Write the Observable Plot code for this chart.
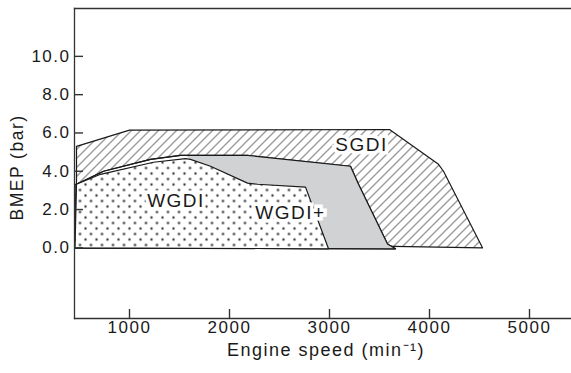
<!DOCTYPE html>
<html>
<head>
<meta charset="utf-8">
<script src="https://cdn.jsdelivr.net/npm/d3@7"></script>
<script src="https://cdn.jsdelivr.net/npm/@observablehq/plot@0.6"></script>
<style>
  html, body { margin: 0; padding: 0; background: #fff; }
  svg text { letter-spacing: 1.5px; }
</style>
</head>
<body>
<div id="chart"></div>
<script>
// ---- data ----
const xTicks = [1000, 2000, 3000, 4000, 5000];
const yTicks = [0, 2, 4, 6, 8, 10];

// SGDI operating envelope (outer boundary, hatched)
const sgdiSpeed = [470, 1000, 3600, 4090, 4140, 4530, 3640, 455, 455, 470];
const sgdiBmep  = [5.30, 6.15, 6.18, 4.36, 4.00, 0.00, 0.08, 0.00, 3.32, 3.32];

// WGDI+ envelope (upper line, right edge, bottom)
const wgdiPlusSpeed = [470, 740, 1210, 1510, 2180, 3210, 3290, 3580, 3660, 455];
const wgdiPlusBmep  = [3.32, 4.00, 4.62, 4.83, 4.83, 4.26, 3.32, 0.20, -0.05, 0.00];

// gray part of WGDI+ (beyond WGDI)
const graySpeed = [1560, 2180, 3210, 3290, 3580, 3660, 2990, 1610];
const grayBmep  = [4.83, 4.83, 4.26, 3.32, 0.20, -0.05, -0.05, 4.62];

// WGDI envelope (dotted)
const wgdiSpeed = [470, 710, 1240, 1560, 1610, 1810, 2180, 2280, 2760, 2990, 455];
const wgdiBmep  = [3.32, 3.84, 4.47, 4.66, 4.62, 4.26, 3.38, 3.32, 3.17, -0.05, 0.00];

const labelText  = ["SGDI", "WGDI", "WGDI+"];
const labelSpeed = [3320, 1465, 2610];
const labelBmep  = [5.37, 2.44, 1.84];

const toPts = (xs, ys) => xs.map((x, i) => ({speed: x, bmep: ys[i]}));
const sgdi = toPts(sgdiSpeed, sgdiBmep);
const wgdiPlus = toPts(wgdiPlusSpeed, wgdiPlusBmep);
const gray = toPts(graySpeed, grayBmep);
const wgdi = toPts(wgdiSpeed, wgdiBmep);
const labels = labelText.map((t, i) => ({t, speed: labelSpeed[i], bmep: labelBmep[i]}));

const ink = "#1a1a1a";
const W = 571, H = 373, ML = 74, MR = 0, MT = 8, MB = 55;
const tickLen = 9;

const chart = Plot.plot({
  width: W,
  height: H,
  marginLeft: ML,
  marginRight: MR,
  marginTop: MT,
  marginBottom: MB,
  style: {fontFamily: "Liberation Sans, Arial, sans-serif", fontSize: "17px", color: ink, background: "#fff"},
  x: {domain: [450, 5420]},
  y: {domain: [-3.69, 12.5]},
  marks: [
    Plot.line(sgdi, {x: "speed", y: "bmep", curve: "linear-closed", fill: "url(#hatch)", stroke: ink, strokeWidth: 1.2}),
    Plot.line(wgdiPlus, {x: "speed", y: "bmep", curve: "linear-closed", fill: "#fff", stroke: ink, strokeWidth: 1.2}),
    Plot.line(gray, {x: "speed", y: "bmep", curve: "linear-closed", fill: "#d1d2d4", stroke: "none"}),
    Plot.line(wgdiPlus, {x: "speed", y: "bmep", curve: "linear-closed", fill: "none", stroke: ink, strokeWidth: 1.2}),
    Plot.line(wgdi, {x: "speed", y: "bmep", curve: "linear-closed", fill: "url(#dots)", stroke: ink, strokeWidth: 1.2}),
    Plot.text(labels, {x: "speed", y: "bmep", text: "t", fontSize: 19, fill: ink, stroke: "#fff", strokeWidth: 7, strokeLinejoin: "miter"}),
    Plot.frame({anchor: "left", stroke: "#333", strokeWidth: 1.3}),
    Plot.frame({anchor: "top", stroke: "#333", strokeWidth: 1.3}),
    Plot.frame({anchor: "bottom", stroke: "#333", strokeWidth: 1.3}),
    // inward tick marks
    Plot.ruleX(xTicks, {x: d => d, insetTop: (H - MT - MB) - tickLen, stroke: "#333", strokeWidth: 1.4}),
    Plot.ruleY(yTicks, {y: d => d, insetRight: (W - ML - MR) - tickLen, stroke: "#333", strokeWidth: 1.4}),
    // tick labels
    Plot.axisX({ticks: xTicks, tickSize: 0, tickPadding: 2, tickFormat: d => String(d), label: null, fill: ink}),
    Plot.axisY({ticks: yTicks, tickSize: 0, tickPadding: 4, tickFormat: d3.format(".1f"), label: null, fill: ink}),
    Plot.text(["BMEP (bar)"], {frameAnchor: "left", textAnchor: "middle", lineAnchor: "middle", rotate: -90, dx: -57, dy: 4, fontSize: 17.5, fill: ink}),
    Plot.text(["Engine speed (min\u207B\u00B9)"], {frameAnchor: "bottom", textAnchor: "middle", lineAnchor: "middle", dy: 32, dx: 3, fontSize: 18, fill: ink})
  ]
});

const defs = d3.select(chart).insert("defs", ":first-child");
const hatch = defs.append("pattern").attr("id", "hatch").attr("patternUnits", "userSpaceOnUse").attr("width", 9).attr("height", 9);
hatch.append("rect").attr("width", 9).attr("height", 9).attr("fill", "#fff");
hatch.append("path").attr("d", "M-2,2 L2,-2 M0,9 L9,0 M7,11 L11,7").attr("stroke", "#222").attr("stroke-width", 0.9);
const dots = defs.append("pattern").attr("id", "dots").attr("patternUnits", "userSpaceOnUse").attr("width", 11).attr("height", 11);
dots.append("rect").attr("width", 11).attr("height", 11).attr("fill", "#fff");
dots.append("circle").attr("cx", 2.5).attr("cy", 2.5).attr("r", 1.2).attr("fill", "#333");
dots.append("circle").attr("cx", 8).attr("cy", 8).attr("r", 1.2).attr("fill", "#333");

document.getElementById("chart").appendChild(chart);
</script>
</body>
</html>
